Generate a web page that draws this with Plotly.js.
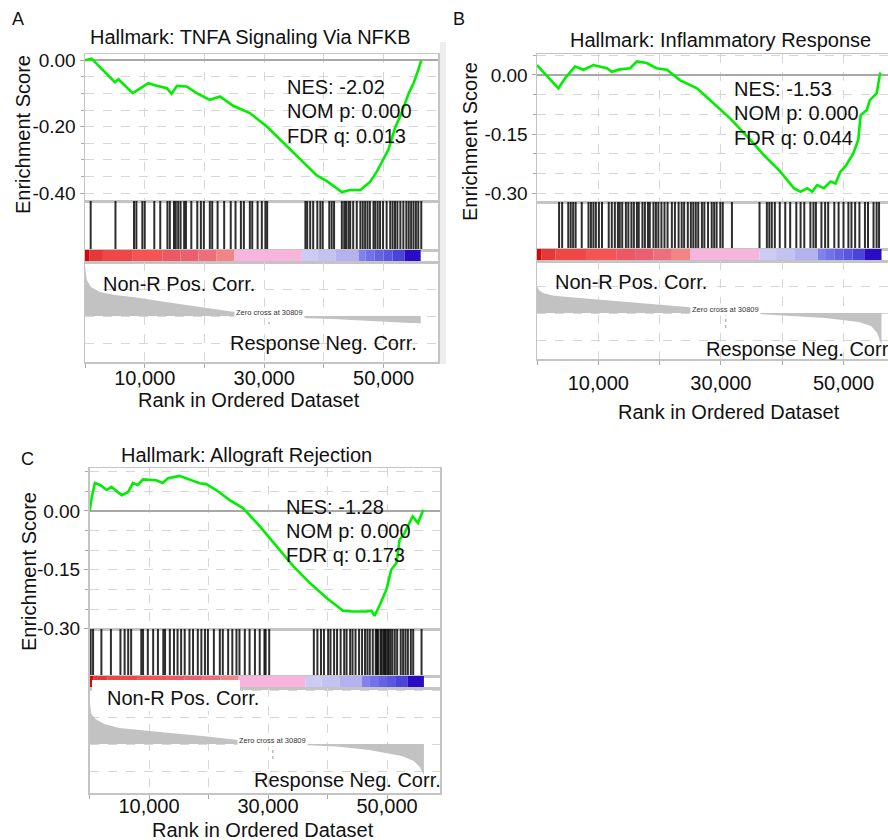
<!DOCTYPE html>
<html><head><meta charset="utf-8">
<script src="https://cdn.plot.ly/plotly-3.0.1.min.js"></script>
<style>html,body{margin:0;padding:0;background:#fff}#chart{width:888px;height:840px}</style>
</head><body><div id="chart"></div>
<script>
// ---------------- DATA ----------------
const panelLetters = ['A', 'B', 'C'];
const panelTitles = ['Hallmark: TNFA Signaling Via NFKB', 'Hallmark: Inflammatory Response', 'Hallmark: Allograft Rejection'];
const nesLabels = ['NES: -2.02', 'NES: -1.53', 'NES: -1.28'];
const nomLabels = ['NOM p: 0.000', 'NOM p: 0.000', 'NOM p: 0.000'];
const fdrLabels = ['FDR q: 0.013', 'FDR q: 0.044', 'FDR q: 0.173'];
const yTitle = 'Enrichment Score';
const xTitle = 'Rank in Ordered Dataset';
const posLabel = 'Non-R Pos. Corr.';
const negLabel = 'Response Neg. Corr.';
const zeroCross = 30809;
const zeroCrossLabel = 'Zero cross at 30809';
const xTickVals = [10000, 30000, 50000];
const xTickText = ['10,000', '30,000', '50,000'];
const esTickValsA = [0, -0.2, -0.4];
const esTickTextA = ['0.00', '-0.20', '-0.40'];
const esTickValsBC = [0, -0.15, -0.30];
const esTickTextBC = ['0.00', '-0.15', '-0.30'];

// Running enrichment score (rank, score)
const esRankA = [0, 1100, 5000, 5600, 8000, 9200, 10600, 12000, 13700, 14500, 15400, 17000, 18700, 20900, 22600, 24800, 27600, 30400, 33200, 36000, 38800, 40500, 41600, 43000, 44400, 46100, 46900, 47700, 48900, 50000, 50800, 51900, 53000, 54200, 55000, 55800, 56300];
const esScoreA = [0.000, 0.005, -0.066, -0.057, -0.099, -0.084, -0.069, -0.077, -0.084, -0.101, -0.077, -0.079, -0.099, -0.119, -0.109, -0.137, -0.159, -0.199, -0.249, -0.299, -0.347, -0.364, -0.379, -0.397, -0.391, -0.391, -0.379, -0.367, -0.334, -0.299, -0.269, -0.204, -0.159, -0.099, -0.069, -0.029, 0.000];

const esRankB = [0, 3500, 4600, 6200, 7600, 9200, 11400, 12200, 13500, 15200, 16300, 17900, 19500, 21200, 23300, 26100, 28800, 31500, 34300, 37000, 39700, 41900, 43000, 44100, 44900, 45700, 46800, 47900, 48700, 49500, 50300, 51600, 52400, 52800, 53800, 54300, 55400, 56000];
const esScoreB = [0.025, -0.034, -0.008, 0.021, 0.013, 0.025, 0.017, 0.008, 0.014, 0.017, 0.034, 0.030, 0.017, 0.013, -0.013, -0.034, -0.072, -0.110, -0.156, -0.203, -0.245, -0.287, -0.296, -0.287, -0.296, -0.279, -0.287, -0.270, -0.275, -0.245, -0.232, -0.199, -0.165, -0.102, -0.089, -0.064, -0.047, 0.006];

const esRankC = [0, 400, 900, 1800, 2900, 3700, 5400, 6500, 7300, 8100, 9000, 11200, 12300, 13200, 15100, 16800, 18500, 19600, 21300, 23500, 25800, 28600, 31400, 34200, 37000, 39800, 42600, 44300, 46500, 47400, 47900, 48700, 49900, 50700, 51600, 52100, 52900, 53800, 54300, 55200, 55800, 56100];
const esScoreC = [-0.002, 0.036, 0.071, 0.066, 0.053, 0.061, 0.040, 0.048, 0.071, 0.066, 0.080, 0.078, 0.071, 0.083, 0.089, 0.080, 0.070, 0.068, 0.053, 0.028, 0.007, -0.039, -0.090, -0.140, -0.183, -0.221, -0.254, -0.256, -0.256, -0.254, -0.267, -0.242, -0.200, -0.150, -0.132, -0.074, -0.058, -0.031, -0.014, -0.031, -0.010, 0.003];

// Gene-set hit positions (rank)
const hitsA = [950, 5100, 8200, 8600, 9600, 10000, 11600, 12600, 13800, 14200, 14900, 15200, 15600, 16000, 16600, 16900, 17800, 18800, 19400, 19900, 20900, 21300, 22200, 23300, 24400, 25200, 26100, 26600, 27600, 28000, 28900, 29600, 30200, 30500, 36900, 37200, 37700, 38200, 38900, 39400, 39800, 40900, 41300, 41700, 43000, 43400, 43700, 44100, 44400, 44900, 45500, 46100, 46500, 46900, 47300, 47700, 48300, 48600, 49000, 49400, 49900, 50500, 51100, 51500, 51900, 52300, 52800, 53300, 53800, 54200, 54600, 55000, 55400, 55800, 56300];
const hitsB = [3600, 4100, 5100, 5500, 5900, 6300, 7300, 8400, 8800, 9200, 9600, 10100, 10600, 11700, 12200, 12700, 13200, 13500, 13900, 14500, 14900, 15400, 15800, 16300, 16600, 17200, 17600, 18100, 18400, 19000, 19400, 19800, 20300, 20800, 21300, 22000, 22500, 23100, 23600, 24000, 24600, 25100, 25500, 25900, 26300, 26900, 27300, 27900, 28500, 28900, 29300, 29900, 30300, 31800, 36300, 37500, 37900, 38300, 38800, 39600, 40500, 41300, 42300, 43000, 43600, 44600, 45100, 45500, 46400, 47000, 47500, 48500, 49200, 50000, 50800, 51300, 51900, 52600, 53500, 54000, 54900, 55400, 55800];
const hitsC = [200, 600, 2000, 3600, 5200, 5900, 6500, 7000, 8700, 9000, 9800, 10700, 11500, 12400, 12700, 13500, 14200, 14800, 15400, 16000, 16800, 17400, 18200, 18800, 19400, 19900, 20900, 21900, 22400, 23300, 24000, 24700, 25200, 26100, 26900, 27800, 28600, 29400, 29600, 30200, 37700, 38300, 38900, 39400, 40100, 40500, 41100, 41600, 42200, 42800, 43200, 43800, 44200, 44700, 45300, 45800, 46300, 46700, 47100, 47600, 48100, 48300, 48500, 48900, 49100, 49400, 49600, 49800, 50100, 50300, 50600, 50900, 51300, 51700, 52300, 52700, 53100, 53500, 54000, 54400, 55800];

// Ranked list metric (rank, metric) – shared ranks, per-panel values
const metricRank = [0, 300, 1000, 2500, 5000, 8000, 13500, 19000, 24500, 30809, 36000, 41500, 47000, 52500, 54500, 55500, 56200];
const metricA = [0.50, 0.36, 0.29, 0.24, 0.21, 0.19, 0.14, 0.09, 0.045, 0, -0.02, -0.03, -0.05, -0.065, -0.07, -0.07, -0.075];
const metricB = [0.27, 0.23, 0.20, 0.175, 0.16, 0.145, 0.12, 0.09, 0.06, 0, -0.01, -0.03, -0.05, -0.09, -0.13, -0.20, -0.32];
const metricC = [0.45, 0.30, 0.25, 0.20, 0.16, 0.14, 0.11, 0.08, 0.04, 0, -0.01, -0.025, -0.06, -0.12, -0.17, -0.23, -0.31];

// Colour bar of the ranked list (segment edges in rank, segment colours)
const colorEdges = [0, 700, 3000, 8000, 13000, 16000, 19000, 22000, 25000, 36300, 39000, 42000, 45800, 47000, 48500, 50000, 51500, 53500, 56200];
const colorShades = ['#d40808', '#e63838', '#ef4646', '#f55454', '#ee5864', '#ea6070', '#ee6e7c', '#f38486', '#f7b4dc', '#cdcbf6', '#c4c2f2', '#b4b2ee', '#8280ee', '#7472ea', '#6662e4', '#5a56e0', '#4c44d8', '#2a0cc6'];

// ---------------- LAYOUT GEOMETRY (pixels) ----------------
const W = 888, H = 840;
const fx = p => p / W;
const fy = p => 1 - p / H;
const FONT = 'Liberation Sans, Arial, sans-serif';
const GRID = '#d6d6d6';
const FRAME = '#c4c4c4';

const geos = [
  {left: 85, right: 438, esTop: 54, hitTop: 201, barTop: 250, metTop: 262, metBottom: 362, xmax: 59100,
   esRange: [-0.424, 0.019], metRange: [-0.46, 0.54], zcLen: -0.08, tickStand: -3,
   letter: [18, 19], title: [250, 37], yt: [23, 135], xt: [249, 400], stats: [285, 87, 111, 136],
   pos: [101, 284], neg: [419, 343, 'right']},
  {left: 537, right: 888, esTop: 54, hitTop: 202, barTop: 249, metTop: 261, metBottom: 359, xmax: 57260,
   esRange: [-0.322, 0.053], metRange: [-0.46, 0.52], zcLen: -0.15, tickStand: 5,
   letter: [459, 19], title: [720, 40], yt: [470, 142], xt: [729, 412], stats: [732, 89, 113, 138],
   pos: [553, 282], neg: [704, 349, 'left']},
  {left: 89.5, right: 440, esTop: 468, hitTop: 629, barTop: 676, metTop: 688, metBottom: 793, xmax: 58900,
   esRange: [-0.3005, 0.109], metRange: [-0.49, 0.56], zcLen: -0.16, tickStand: -6,
   letter: [27, 459], title: [246, 455], yt: [29, 572], xt: [263, 830], stats: [284, 507, 531, 555],
   pos: [105, 698], neg: [252, 780, 'left']}
];

const panels = [
  {es: [esRankA, esScoreA], hits: hitsA, metric: metricA, tv: esTickValsA, tt: esTickTextA},
  {es: [esRankB, esScoreB], hits: hitsB, metric: metricB, tv: esTickValsBC, tt: esTickTextBC},
  {es: [esRankC, esScoreC], hits: hitsC, metric: metricC, tv: esTickValsBC, tt: esTickTextBC}
];

const id = (l, n) => l + (n === 1 ? '' : n);
const key = (l, n) => l + 'axis' + (n === 1 ? '' : n);

const traces = [];
const layout = {
  width: W, height: H, autosize: false,
  margin: {l: 0, r: 0, t: 0, b: 0},
  paper_bgcolor: '#fff', plot_bgcolor: '#fff',
  showlegend: false,
  font: {family: FONT, color: '#111', size: 20},
  annotations: [], shapes: []
};

// bar segment geometry from colour edges
const segMid = colorShades.map((c, i) => (colorEdges[i] + colorEdges[i + 1]) / 2);
const segWid = colorShades.map((c, i) => colorEdges[i + 1] - colorEdges[i]);
const segOne = colorShades.map(() => 1);

function ann(text, x, y, opts) {
  layout.annotations.push(Object.assign({text: text, x: fx(x), y: fy(y), xref: 'paper', yref: 'paper',
    showarrow: false, xanchor: 'center', yanchor: 'middle', font: {family: FONT, size: 20, color: '#111'}}, opts || {}));
}

panels.forEach((p, i) => {
  const g = geos[i];
  const n = [4 * i + 1, 4 * i + 2, 4 * i + 3, 4 * i + 4];
  const xd = [fx(g.left), fx(g.right)];
  const yDoms = [[fy(g.hitTop), fy(g.esTop)], [fy(g.barTop), fy(g.hitTop)], [fy(g.metTop), fy(g.barTop)], [fy(g.metBottom), fy(g.metTop)]];
  const baseX = {domain: xd, range: [0, g.xmax], showline: true, mirror: true, linecolor: FRAME, linewidth: 1.5,
    zeroline: false, fixedrange: true};
  const baseY = {showline: true, mirror: true, linecolor: FRAME, linewidth: 1.5, zeroline: false, fixedrange: true};

  // ES axes
  layout[key('x', n[0])] = Object.assign({}, baseX, {anchor: id('y', n[0]), showticklabels: false, ticks: '',
    showgrid: true, gridcolor: GRID, griddash: 'dash', dtick: 10000, tick0: 0});
  layout[key('y', n[0])] = Object.assign({}, baseY, {domain: yDoms[0], anchor: id('x', n[0]), range: g.esRange,
    tickmode: 'array', tickvals: p.tv, ticktext: p.tt, ticks: 'outside', ticklen: 4, tickcolor: '#aaa',
    tickfont: {family: FONT, size: 19, color: '#111'},
    showgrid: true, gridcolor: GRID, griddash: 'dash',
    minor: {dtick: 0.05, tick0: 0, showgrid: true, gridcolor: GRID, griddash: 'dash', ticks: 'outside', ticklen: 3, tickcolor: '#aaa'},
    zeroline: true, zerolinecolor: '#a8a8a8', zerolinewidth: 2});
  // hits axes
  layout[key('x', n[1])] = Object.assign({}, baseX, {anchor: id('y', n[1]), showticklabels: false, ticks: '', showgrid: false});
  layout[key('y', n[1])] = Object.assign({}, baseY, {domain: yDoms[1], anchor: id('x', n[1]), range: [0, 1], showticklabels: false, ticks: '', showgrid: false});
  // colour bar axes
  layout[key('x', n[2])] = Object.assign({}, baseX, {anchor: id('y', n[2]), showticklabels: false, ticks: '', showgrid: false});
  layout[key('y', n[2])] = Object.assign({}, baseY, {domain: yDoms[2], anchor: id('x', n[2]), range: [0, 1], showticklabels: false, ticks: '', showgrid: false});
  // metric axes
  layout[key('x', n[3])] = Object.assign({}, baseX, {anchor: id('y', n[3]),
    tickmode: 'array', tickvals: xTickVals, ticktext: xTickText, ticks: '',
    tickfont: {family: FONT, size: 20, color: '#111'}, ticklabelstandoff: g.tickStand,
    showgrid: true, gridcolor: GRID, griddash: 'dash',
    minor: {dtick: 10000, tick0: 0, showgrid: true, gridcolor: GRID, griddash: 'dash', ticks: 'outside', ticklen: 4, tickcolor: '#aaa'}});
  layout[key('y', n[3])] = Object.assign({}, baseY, {domain: yDoms[3], anchor: id('x', n[3]), range: g.metRange,
    showticklabels: false, ticks: '', showgrid: true, gridcolor: GRID, griddash: 'dash', dtick: 0.27, tick0: 0});

  // metric fill
  traces.push({type: 'scatter', mode: 'lines', x: metricRank, y: p.metric, fill: 'tozeroy',
    fillcolor: '#c2c2c2', line: {width: 0, color: '#c2c2c2'}, xaxis: id('x', n[3]), yaxis: id('y', n[3]), hoverinfo: 'skip'});
  // colour bar
  traces.push({type: 'bar', x: segMid, y: segOne, width: segWid, base: 0,
    marker: {color: colorShades, line: {width: 0}}, xaxis: id('x', n[2]), yaxis: id('y', n[2]), hoverinfo: 'skip'});
  // hits
  const hx = [], hy = [];
  p.hits.forEach(h => { hx.push(h, h, null); hy.push(0, 1, null); });
  traces.push({type: 'scatter', mode: 'lines', x: hx, y: hy, line: {color: 'rgba(0,0,0,0.82)', width: 2},
    xaxis: id('x', n[1]), yaxis: id('y', n[1]), hoverinfo: 'skip'});
  // ES curve
  traces.push({type: 'scatter', mode: 'lines', x: p.es[0], y: p.es[1], line: {color: '#00ee00', width: 2.6},
    xaxis: id('x', n[0]), yaxis: id('y', n[0]), hoverinfo: 'skip'});

  // zero-cross marker and label
  layout.shapes.push({type: 'line', xref: id('x', n[3]), yref: id('y', n[3]), x0: zeroCross, x1: zeroCross,
    y0: 0, y1: g.zcLen, line: {color: '#9a9a9a', width: 1, dash: 'dot'}});
  layout.annotations.push({text: zeroCrossLabel, x: zeroCross, y: 0.04, xref: id('x', n[3]), yref: id('y', n[3]),
    showarrow: false, xanchor: 'center', yanchor: 'middle', bgcolor: '#fff', borderpad: 1,
    font: {family: FONT, size: 7.5, color: '#333'}});

  // texts
  ann(panelLetters[i], g.letter[0], g.letter[1], {font: {family: FONT, size: 18, color: '#111'}});
  ann(panelTitles[i], g.title[0], g.title[1]);
  ann(yTitle, g.yt[0], g.yt[1], {textangle: -90});
  ann(xTitle, g.xt[0], g.xt[1]);
  ann(nesLabels[i], g.stats[0], g.stats[1], {xanchor: 'left'});
  ann(nomLabels[i], g.stats[0], g.stats[2], {xanchor: 'left'});
  ann(fdrLabels[i], g.stats[0], g.stats[3], {xanchor: 'left'});
  ann(posLabel, g.pos[0], g.pos[1], {xanchor: 'left'});
  ann(negLabel, g.neg[0], g.neg[1], {xanchor: g.neg[2]});
});

// light grey strip left of panel B and white label box over panel C's colour bar
layout.shapes.push({type: 'rect', xref: 'paper', yref: 'paper', x0: fx(440), x1: fx(446), y0: fy(364), y1: fy(42),
  fillcolor: '#eeeeee', line: {width: 0}, layer: 'below'});
layout.shapes.push({type: 'rect', xref: 'paper', yref: 'paper', x0: fx(92), x1: fx(240), y0: fy(711), y1: fy(680),
  fillcolor: '#ffffff', line: {width: 0}, layer: 'above'});

Plotly.newPlot('chart', traces, layout, {staticPlot: true, displayModeBar: false});
</script>
</body></html>
